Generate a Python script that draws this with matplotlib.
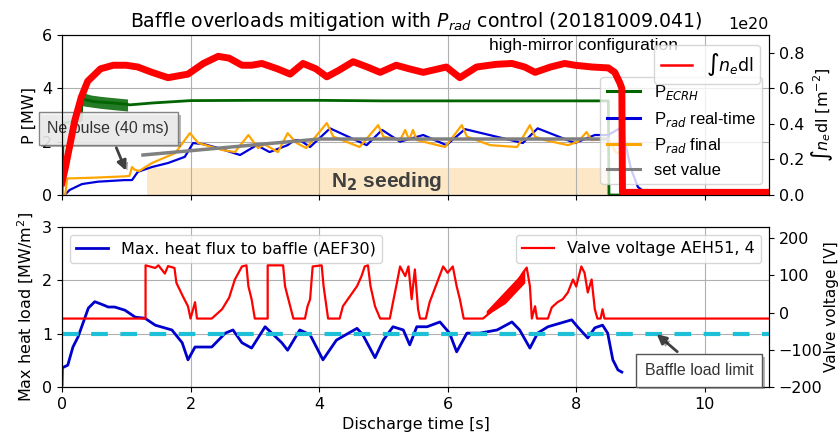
import numpy as np
import matplotlib
matplotlib.use("Agg")
import matplotlib.pyplot as plt
import matplotlib.patheffects as pe
from matplotlib.ticker import ScalarFormatter

# ---- top panel data ----
# line-integrated density [1e20 m^-2]
ne_t = [0.0, 0.05, 0.2, 0.3, 0.4, 0.6, 0.8, 1.0, 1.18, 1.4, 1.65, 1.96, 2.2, 2.43, 2.6, 2.8,
        2.95, 3.11, 3.35, 3.55, 3.75, 3.95, 4.12, 4.3, 4.53, 4.75, 4.95, 5.2, 5.4, 5.62, 5.98,
        6.19, 6.45, 6.75, 7.0, 7.2, 7.36, 7.6, 7.82, 7.98, 8.25, 8.5, 8.6, 8.68, 8.71, 8.72, 11.0]
ne_v = [0.07, 0.15, 0.42, 0.55, 0.64, 0.71, 0.73, 0.73, 0.72, 0.69, 0.66, 0.68, 0.74, 0.78,
        0.77, 0.73, 0.73, 0.74, 0.71, 0.68, 0.74, 0.71, 0.665, 0.70, 0.75, 0.72, 0.69, 0.73,
        0.71, 0.69, 0.72, 0.66, 0.72, 0.735, 0.74, 0.72, 0.69, 0.72, 0.74, 0.73, 0.72, 0.715,
        0.69, 0.63, 0.60, 0.015, 0.015]

# ECRH power [MW]
ecrh_t = [0.0, 0.02, 0.3, 0.31, 0.5, 0.8, 1.02, 1.05, 1.4, 2.0, 3.0, 4.0, 5.0, 6.0, 7.0, 8.0,
          8.5, 8.51, 11.0]
ecrh_v = [0.0, 2.7, 2.8, 3.6, 3.5, 3.45, 3.4, 3.38, 3.45, 3.54, 3.55, 3.55, 3.53, 3.53, 3.53,
          3.53, 3.53, 0.0, 0.0]
ecrh_band_t = [0.31, 0.45, 0.6, 0.8, 1.02]
ecrh_band_hi = [3.85, 3.75, 3.7, 3.65, 3.6]
ecrh_band_lo = [3.35, 3.3, 3.25, 3.2, 3.15]

# P_rad real-time [MW]
rt_t = [0.0, 0.04, 0.12, 0.31, 0.56, 0.98, 1.09, 1.18, 1.40, 1.65, 1.91, 2.04, 2.22, 2.43,
        2.77, 3.03, 3.23, 3.51, 3.62, 3.70, 3.86, 4.17, 4.74, 4.98, 5.26, 5.62, 5.98, 6.27,
        7.17, 7.40, 7.98, 8.29, 8.5, 8.71, 8.85, 8.96, 9.1]
rt_v = [0.0, 0.0, 0.19, 0.41, 0.5, 0.56, 0.56, 0.87, 1.05, 1.2, 1.43, 1.95, 1.9, 1.76, 1.5,
        1.87, 1.61, 1.87, 2.06, 2.06, 1.8, 2.5, 1.87, 2.44, 2.0, 2.25, 1.87, 2.47, 1.95, 2.5,
        1.95, 2.25, 2.25, 2.55, 1.0, 0.3, 0.05]

# P_rad final [MW]
fin_t = [0.0, 0.05, 0.08, 0.5, 0.98, 1.05, 1.09, 1.13, 1.2, 1.4, 1.76, 1.99, 2.12, 2.49,
         2.69, 2.9, 3.05, 3.15, 3.36, 3.51, 3.65, 3.8, 4.12, 4.22, 4.63, 4.92, 5.0, 5.26,
         5.34, 5.4, 5.46, 5.52, 5.96, 6.22, 6.3, 6.66, 7.08, 7.28, 7.36, 7.51, 7.87, 8.03,
         8.16, 8.24, 8.5, 8.62, 8.68, 8.75]
fin_v = [0.0, 0.0, 0.62, 0.65, 0.7, 0.72, 1.05, 0.95, 0.9, 1.2, 1.57, 2.32, 1.95, 1.69, 1.61,
         2.25, 1.76, 1.9, 1.61, 2.32, 1.95, 1.76, 2.7, 2.19, 1.8, 2.62, 2.19, 2.06, 2.44, 2.06,
         2.44, 2.06, 1.8, 2.62, 2.19, 1.87, 1.8, 2.62, 2.19, 2.06, 1.87, 2.0, 2.36, 2.06, 2.1,
         1.6, 1.57, 0.0]

# set value [MW]
set_t = [1.26, 4.0, 8.5]
set_v = [1.5, 2.1, 2.1]

seeding_start, seeding_end, seeding_top = 1.32, 8.49, 1.0

# ---- bottom panel data ----
flux_t = [0.0, 0.005, 0.09, 0.17, 0.25, 0.36, 0.41, 0.51, 0.62, 0.72, 0.82, 0.98, 1.14, 1.29,
          1.45, 1.71, 1.87, 1.96, 2.07, 2.33, 2.54, 2.66, 2.8, 2.95, 3.16, 3.42, 3.51, 3.7,
          3.86, 4.06, 4.27, 4.59, 4.68, 4.87, 5.0, 5.15, 5.31, 5.41, 5.52, 5.68, 5.88, 6.03,
          6.14, 6.3, 6.5, 6.77, 7.0, 7.12, 7.28, 7.4, 7.56, 7.93, 8.02, 8.18, 8.29, 8.41, 8.49,
          8.57, 8.65, 8.71]
flux_v = [0.04, 0.36, 0.41, 0.75, 0.94, 1.31, 1.48, 1.6, 1.55, 1.5, 1.5, 1.44, 1.31, 1.29,
          1.16, 1.07, 0.83, 0.51, 0.75, 0.75, 1.01, 1.07, 0.83, 0.73, 1.13, 0.83, 0.69, 1.07,
          0.98, 0.51, 0.88, 1.1, 0.98, 0.55, 0.88, 1.13, 1.07, 0.79, 1.13, 1.13, 1.22, 1.01,
          0.66, 1.01, 1.01, 1.07, 1.22, 1.07, 0.73, 1.01, 1.13, 1.26, 1.13, 0.92, 1.11, 1.16,
          1.01, 0.51, 0.32, 0.28]
load_limit = 1.0

valve_t = [0.0, 1.30, 1.30, 1.45, 1.5, 1.6, 1.65, 1.75, 1.78, 1.88, 1.96, 2.0, 2.07, 2.1, 2.33,
           2.49, 2.6, 2.69, 2.8, 2.87, 2.9, 2.95, 3.0, 3.2, 3.2, 3.44, 3.47, 3.51, 3.6, 3.78,
           3.82, 3.86, 3.9, 4.04, 4.07, 4.14, 4.32, 4.37, 4.48, 4.59, 4.66, 4.71, 4.76, 4.8,
           4.87, 4.95, 5.1, 5.15, 5.2, 5.26, 5.34, 5.39, 5.44, 5.49, 5.54, 5.57, 5.66, 5.72,
           5.93, 6.0, 6.08, 6.14, 6.19, 6.25, 6.55, 6.66, 6.86, 7.0, 7.17, 7.23, 7.28, 7.31,
           7.36, 7.39, 7.56, 7.62, 7.71, 7.79, 7.87, 7.95, 8.0, 8.08, 8.13, 8.18, 8.24, 8.29,
           8.33, 8.38, 8.41, 8.44, 11.0]
valve_v = [-16, -16, 127, 120, 127, 105, 125, 120, 80, 44, 17, -16, 28, -16, -16,
           9, 40, 89, 124, 127, 71, 36, -16, -16, 127, 127, 71, 44, -16, -16,
           17, 36, 124, 127, 71, -16, -16, 17, 44, 71, 98, 124, 127, 71,
           17, -16, -16, 28, 71, 124, 98, 124, 36, 116, 9, -16, -16, 28,
           124, 107, 124, 71, 36, -16, -16, 0, 36, 60, 107, 121, 71, -16,
           17, -16, -16, 14, 28, 36, 54, 89, 70, 124, 107, 54, 89, 9,
           -16, -16, 9, -16, -16]
ramp_band_t = [6.6, 6.9, 7.2]
ramp_band_hi = [5, 60, 115]
ramp_band_lo = [-8, 25, 80]

ARIAL = "Liberation Sans"
FS = 11.5

fig = plt.figure(figsize=(8.4, 4.41), dpi=100)
ax = fig.add_axes([0.0738, 0.5578, 0.8417, 0.3628])
bx = fig.add_axes([0.0738, 0.1224, 0.8417, 0.3628], sharex=ax)

for a in (ax, bx):
    a.grid(True, color="#b0b0b0", lw=0.8)
    a.tick_params(labelsize=FS)

# top
ax.fill_between([seeding_start, seeding_end], 0, seeding_top, color="#fce8c6", lw=0)
ax.text(5.05, 0.5, "N$_\\mathbf{2}$ seeding", ha="center",
        va="center", fontsize=15, fontweight="bold", color="#404040", family=ARIAL)
ax.fill_between(ecrh_band_t, ecrh_band_lo, ecrh_band_hi, color="darkgreen", lw=0, alpha=0.85)
ax.plot(ecrh_t, ecrh_v, color="darkgreen", lw=2, label="P$_{ECRH}$")
ax.plot(rt_t, rt_v, color="#0000dd", lw=1.6, label="P$_{rad}$ real-time")
ax.plot(fin_t, fin_v, color="orange", lw=1.6, label="P$_{rad}$ final")
ax.plot(set_t, set_v, color="gray", lw=2.5, label="set value")
ax.set_ylim(0, 6)
ax.set_yticks([0, 2, 4, 6])
ax.set_xlim(0, 11)
ax.set_ylabel("P [MW]", fontsize=FS)
ax.tick_params(labelbottom=False)
ax.set_title("Baffle overloads mitigation with $P_{rad}$ control (20181009.041)", fontsize=13.6)
leg2 = ax.legend(loc="upper right", bbox_to_anchor=(0.99, 0.74), borderaxespad=0,
                 prop={"family": ARIAL, "size": 12}, labelspacing=0.45, handlelength=2.0,
                 borderpad=0.4)
for ln in leg2.get_lines():
    ln.set_linewidth(2.2)
ax.text(0.738, 0.935, "high-mirror configuration", transform=ax.transAxes, ha="center",
        va="center", fontsize=12.5, family=ARIAL)

ne_vals = np.array(ne_v) * 1e20
axr = ax.twinx()
axr.plot(ne_t, ne_vals, color="red", lw=5, label="$\\int n_e$dl")
axr.set_ylim(0, 0.9e20)
axr.set_yticks(np.array([0, 0.2, 0.4, 0.6, 0.8]) * 1e20)
fmt = ScalarFormatter()
fmt.set_powerlimits((20, 20))
axr.yaxis.set_major_formatter(fmt)
axr.yaxis.get_offset_text().set_visible(False)
axr.text(1.0, 1.02, "1e20", transform=axr.transAxes, ha="right", va="bottom", fontsize=FS)
axr.tick_params(labelsize=FS)
axr.set_ylabel("$\\int n_e$dl [m$^{-2}$]", fontsize=FS)
leg1 = axr.legend(loc="upper right", bbox_to_anchor=(0.987, 0.94), borderaxespad=0,
                  fontsize=12.5, handlelength=1.8, borderpad=0.35)
leg1.get_lines()[0].set_linewidth(1.8)

ann = ax.annotate("Ne pulse (40 ms)", xy=(1.01, 0.82), xytext=(0.72, 2.5),
                  ha="center", va="center", fontsize=11.5, family=ARIAL, color="#333333",
                  annotation_clip=False, zorder=10,
                  bbox=dict(boxstyle="square,pad=0.55", fc="#f4f4f4", ec="#707070", alpha=0.85),
                  arrowprops=dict(arrowstyle="-|>", color="#404040", lw=2, mutation_scale=14))
ann.get_bbox_patch().set_path_effects([pe.withSimplePatchShadow(offset=(2, -2), alpha=0.4)])
ann.arrow_patch.set_path_effects([pe.withSimplePatchShadow(offset=(2, -2), alpha=0.4)])

# bottom
bx.plot(flux_t, flux_v, color="#0000cc", lw=2, label="Max. heat flux to baffle (AEF30)")
bx.axhline(load_limit, color="#1ec0d8", lw=3, ls=(0, (4, 3)), zorder=5)
bx.set_ylim(0, 3)
bx.set_yticks([0, 1, 2, 3])
bx.set_xticks([0, 2, 4, 6, 8, 10])
bx.set_xlabel("Discharge time [s]", fontsize=FS)
bx.set_ylabel("Max heat load [MW/m$^2$]", fontsize=FS)
bx.legend(loc="upper left", fontsize=FS)

bxr = bx.twinx()
bxr.fill_between(ramp_band_t, ramp_band_lo, ramp_band_hi, color="red", lw=0)
bxr.plot(valve_t, valve_v, color="red", lw=1.6, label="Valve voltage AEH51, 4")
bxr.set_ylim(-200, 230)
bxr.set_yticks([-200, -100, 0, 100, 200])
bxr.tick_params(labelsize=FS)
bxr.set_ylabel("Valve voltage [V]", fontsize=11, labelpad=1)
bxr.legend(loc="upper right", fontsize=FS)

bann = bxr.annotate("Baffle load limit", xy=(9.22, -53), xytext=(9.91, -155),
                    ha="center", va="center", fontsize=11.5, family=ARIAL, color="#333333",
                    annotation_clip=False, zorder=10,
                    bbox=dict(boxstyle="square,pad=0.55", fc="white", ec="#555555"),
                    arrowprops=dict(arrowstyle="-|>", color="#404040", lw=2, mutation_scale=14))
bann.get_bbox_patch().set_path_effects([pe.withSimplePatchShadow(offset=(2, -2), alpha=0.4)])
bann.arrow_patch.set_path_effects([pe.withSimplePatchShadow(offset=(2, -2), alpha=0.4)])

fig.savefig("out.png", dpi=100)
